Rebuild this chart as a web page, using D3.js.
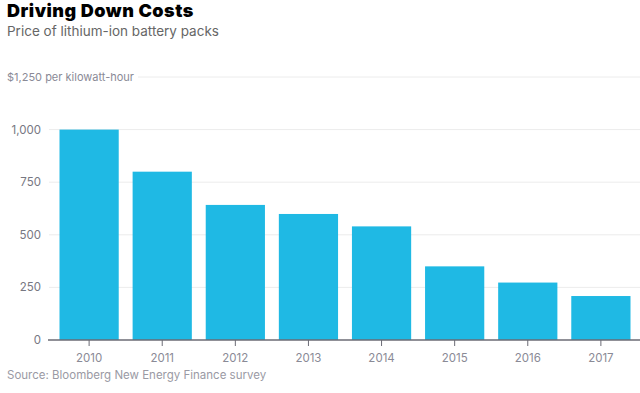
<!DOCTYPE html>
<html>
<head>
<meta charset="utf-8">
<script src="https://cdn.jsdelivr.net/npm/d3@7"></script>
<style>
  body { margin: 0; background: #fff; }
  text { font-family: "Inter", "Noto Sans", sans-serif; }
</style>
</head>
<body>
<div id="chart"></div>
<script>
var years = ["2010", "2011", "2012", "2013", "2014", "2015", "2016", "2017"]
var prices = [1000, 800, 642, 599, 540, 350, 273, 209]
var yTicks = [0, 250, 500, 750, 1000]

var width = 640,
  height = 393

var svg = d3.select("#chart")
  .append("svg")
  .attr("width", width)
  .attr("height", height)

var x = d3.scaleBand()
  .domain(years)
  .range([50, 640])
  .paddingInner(0.19)
  .paddingOuter(0.13)

var y = d3.scaleLinear()
  .domain([0, 1250])
  .range([340, 77])

// title block
svg.append("text")
  .attr("x", 7)
  .attr("y", 17)
  .style("font-size", "18px")
  .style("font-weight", 900)
  .style("letter-spacing", "0.5px")
  .style("fill", "#000")
  .text("Driving Down Costs")

svg.append("text")
  .attr("x", 7)
  .attr("y", 36)
  .style("font-size", "13.5px")
  .style("fill", "#666")
  .text("Price of lithium-ion battery packs")

// gridlines
svg.append("g")
  .selectAll("line")
  .data(yTicks.filter(function (d) { return d > 0 }))
  .enter()
  .append("line")
  .attr("x1", 49)
  .attr("x2", width)
  .attr("y1", function (d) { return y(d) })
  .attr("y2", function (d) { return y(d) })
  .style("stroke", "#ececec")

svg.append("text")
  .attr("x", 7)
  .attr("y", y(1250) + 4)
  .style("font-size", "11px")
  .style("fill", "#8a8a96")
  .text("$1,250 per kilowatt-hour")

svg.append("line")
  .attr("x1", 138)
  .attr("x2", width)
  .attr("y1", y(1250))
  .attr("y2", y(1250))
  .style("stroke", "#ececec")

// y tick labels
svg.append("g")
  .selectAll("text")
  .data(yTicks)
  .enter()
  .append("text")
  .attr("x", 41)
  .attr("y", function (d) { return y(d) + 4 })
  .attr("text-anchor", "end")
  .style("font-size", "11.5px")
  .style("fill", "#777782")
  .text(d3.format(","))

// bars
svg.append("g")
  .selectAll("rect")
  .data(prices)
  .enter()
  .append("rect")
  .attr("x", function (d, i) { return x(years[i]) })
  .attr("y", function (d) { return y(d) })
  .attr("width", x.bandwidth())
  .attr("height", function (d) { return y(0) - y(d) })
  .style("fill", "#1fb9e4")

// x axis
var xAxis = svg.append("g")
  .attr("transform", "translate(0," + y(0) + ")")
  .call(d3.axisBottom(x).tickSize(6).tickSizeOuter(0).tickPadding(8))

xAxis.select(".domain")
  .attr("d", "M48,0H" + width)
  .style("stroke", "#6b6b75")
  .style("stroke-width", 1.5)

xAxis.selectAll(".tick line")
  .style("stroke", "#6b6b75")

xAxis.selectAll(".tick text")
  .style("font-family", "Inter, 'Noto Sans', sans-serif")
  .style("font-size", "11.5px")
  .style("fill", "#8a8a96")

svg.append("text")
  .attr("x", 7)
  .attr("y", 379)
  .style("font-size", "11.5px")
  .style("fill", "#9a9aa4")
  .text("Source: Bloomberg New Energy Finance survey")
</script>
</body>
</html>
